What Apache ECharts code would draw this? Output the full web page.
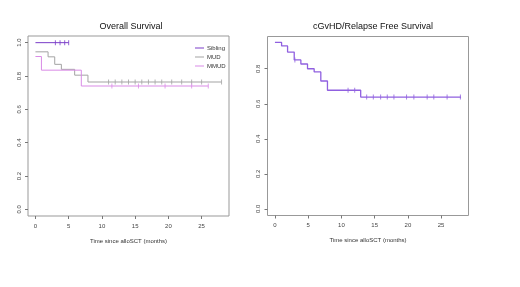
<!DOCTYPE html>
<html style="height: 100%">
<head>
<meta charset="UTF-8">
<script src="https://cdn.jsdelivr.net/npm/echarts@6/dist/echarts.min.js"></script>
</head>
<body style="height: 100%; margin: 0; background: #fff">
<div id="container" style="width: 520px; height: 287px"></div>
<script type="text/javascript">
// Overall survival, by donor type
var sibTime = [0, 5.0];
var sibSurv = [1, 1];
var sibCens = [3.0, 3.7, 4.4, 5.0];

var mudTime = [0, 1.9, 2.9, 3.9, 5.9, 7.9, 28];
var mudSurv = [0.945, 0.915, 0.87, 0.84, 0.805, 0.764, 0.764];
var mudCens = [11, 12, 13, 14, 15, 16, 17, 18, 19, 20.5, 22, 23.5, 25, 28];

var mmudTime = [0, 0.9, 6.9, 26];
var mmudSurv = [0.917, 0.835, 0.74, 0.74];
var mmudCens = [11.5, 15.5, 19.5, 23.5, 26];

// cGvHD / relapse free survival
var rfsTime = [0, 1.0, 1.9, 2.9, 3.9, 4.9, 5.9, 6.9, 7.9, 12.9, 28];
var rfsSurv = [0.95, 0.93, 0.895, 0.85, 0.827, 0.8, 0.782, 0.73, 0.677, 0.638, 0.638];
var rfsCens = [3.0, 11.0, 12.0, 13.8, 14.8, 15.9, 16.9, 17.9, 19.8, 20.9, 22.9, 23.9, 25.9, 27.9];

var xTicks = [0, 5, 10, 15, 20, 25];
var yTicksLeft = [0, 0.2, 0.4, 0.6, 0.8, 1.0];
var yTicksRight = [0, 0.2, 0.4, 0.6, 0.8];

var colSib = '#7a3cc8', colMud = '#a3a3a3', colMmud = '#d98be6', colRfs = '#9060e0';

function pairs(t, s) {
  var out = [];
  for (var i = 0; i < t.length; i++) out.push([t[i], s[i]]);
  return out;
}
// survival value at time x (step function)
function survAt(t, s, x) {
  var v = s[0];
  for (var i = 0; i < t.length; i++) { if (t[i] <= x) v = s[i]; }
  return v;
}
function censPts(t, s, c) {
  return c.map(function (x) { return [x, survAt(t, s, x)]; });
}

function xAx(idx) {
  return {
    gridIndex: idx, type: 'value', min: -1.12, max: 29.12,
    name: 'Time since alloSCT (months)', nameLocation: 'middle', nameGap: 22,
    nameTextStyle: { fontSize: 6, color: '#333', fontFamily: 'Liberation Sans' },
    splitLine: { show: false },
    axisLine: { show: false, onZero: false },
    axisTick: { show: true, customValues: xTicks, length: 3, lineStyle: { color: '#777' } },
    axisLabel: { customValues: xTicks, fontSize: 6, color: '#444', margin: 7, fontFamily: 'Liberation Sans' }
  };
}
function yAx(idx, min, max, ticks) {
  return {
    gridIndex: idx, type: 'value', min: min, max: max,
    splitLine: { show: false },
    axisLine: { show: false, onZero: false },
    axisTick: { show: true, customValues: ticks, length: 3, lineStyle: { color: '#777' } },
    axisLabel: {
      customValues: ticks, fontSize: 6, color: '#444', margin: 6, rotate: 90,
      fontFamily: 'Liberation Sans',
      formatter: function (v) { return v.toFixed(1); }
    }
  };
}
function censSeries(name, xi, t, s, c, color) {
  return {
    name: name + ' cens', type: 'scatter', xAxisIndex: xi, yAxisIndex: xi,
    data: censPts(t, s, c), symbol: 'rect', symbolSize: [1, 5],
    itemStyle: { color: color }, silent: true
  };
}
function stepSeries(name, xi, t, s, color, w) {
  return {
    name: name, type: 'line', step: 'end', xAxisIndex: xi, yAxisIndex: xi,
    data: pairs(t, s), showSymbol: false, symbol: 'none',
    lineStyle: { color: color, width: w }, itemStyle: { color: color }
  };
}

var myChart = echarts.init(document.getElementById('container'));
var option = {
  animation: false,
  textStyle: { fontFamily: 'Liberation Sans' },
  title: [
    { text: 'Overall Survival', left: 126, top: 17, textAlign: 'center',
      textStyle: { fontSize: 9, fontWeight: 'normal', color: '#111' } },
    { text: 'cGvHD/Relapse Free Survival', left: 368, top: 17, textAlign: 'center',
      textStyle: { fontSize: 9, fontWeight: 'normal', color: '#111' } }
  ],
  legend: {
    data: ['Sibling', 'MUD', 'MMUD'], orient: 'vertical', left: 190, top: 40,
    icon: 'rect', itemWidth: 9, itemHeight: 1, itemGap: 3,
    textStyle: { fontSize: 6, color: '#333', padding: [0, 0, 0, -2] }
  },
  grid: [
    { left: 28, top: 36, width: 201, height: 180, show: true, borderColor: '#999', borderWidth: 1 },
    { left: 267.5, top: 36.5, width: 201, height: 179, show: true, borderColor: '#999', borderWidth: 1 }
  ],
  xAxis: [xAx(0), xAx(1)],
  yAxis: [yAx(0, -0.04, 1.04, yTicksLeft), yAx(1, -0.038, 0.984, yTicksRight)],
  series: [
    stepSeries('MUD', 0, mudTime, mudSurv, colMud, 1),
    stepSeries('MMUD', 0, mmudTime, mmudSurv, colMmud, 1),
    stepSeries('Sibling', 0, sibTime, sibSurv, colSib, 1),
    censSeries('MUD', 0, mudTime, mudSurv, mudCens, colMud),
    censSeries('MMUD', 0, mmudTime, mmudSurv, mmudCens, colMmud),
    censSeries('Sibling', 0, sibTime, sibSurv, sibCens, colSib),
    stepSeries('RFS', 1, rfsTime, rfsSurv, colRfs, 1.3),
    censSeries('RFS', 1, rfsTime, rfsSurv, rfsCens, colRfs)
  ]
};
myChart.setOption(option);
</script>
</body>
</html>
